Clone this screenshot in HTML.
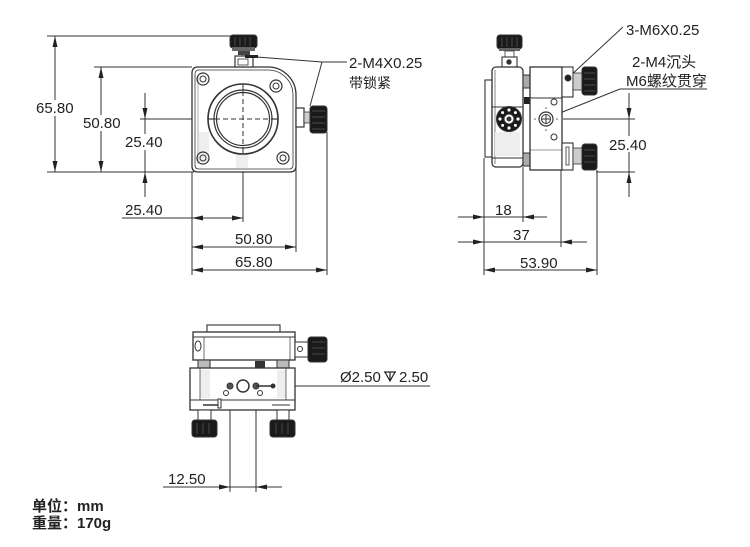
<!DOCTYPE html>
<html><head><meta charset="utf-8">
<style>
html,body{margin:0;padding:0;background:#fff;width:750px;height:547px;overflow:hidden}
svg{display:block}
text{font-family:"Liberation Sans","Noto Sans CJK SC",sans-serif;fill:#222;font-size:15px}
.cjk{font-family:"Liberation Sans","Noto Sans CJK SC",sans-serif}
</style></head><body>
<svg width="750" height="547" viewBox="0 0 750 547" xmlns="http://www.w3.org/2000/svg">
<defs>
<marker id="a" viewBox="0 0 11 5" refX="11" refY="2.5" markerWidth="11" markerHeight="5" markerUnits="userSpaceOnUse" orient="auto-start-reverse"><path d="M0,0 L11,2.5 L0,5z" fill="#222"/></marker>
</defs>

<!-- ================= FRONT VIEW ================= -->
<g stroke="#333" stroke-width="1" fill="none">
  <!-- 65.80 vertical -->
  <line x1="47" y1="36" x2="232" y2="36"/>
  <line x1="47" y1="172" x2="194" y2="172"/>
  <line x1="55" y1="36" x2="55" y2="172" marker-start="url(#a)" marker-end="url(#a)"/>
  <!-- 50.80 vertical -->
  <line x1="94" y1="67" x2="192" y2="67"/>
  <line x1="101" y1="67" x2="101" y2="172" marker-start="url(#a)" marker-end="url(#a)"/>
  <!-- 25.40 vertical -->
  <line x1="145" y1="93" x2="145" y2="119" marker-end="url(#a)"/>
  <line x1="145" y1="119" x2="145" y2="172"/>
  <line x1="145" y1="197" x2="145" y2="172" marker-end="url(#a)"/>
  <!-- center lines -->
  <line x1="140" y1="119" x2="215" y2="119"/>
  <line x1="215" y1="119" x2="271" y2="119" stroke-dasharray="5,3"/>
  <line x1="271" y1="119" x2="296" y2="119"/>
  <line x1="243" y1="55" x2="243" y2="91"/>
  <line x1="243" y1="91" x2="243" y2="147" stroke-dasharray="5,3"/>
  <line x1="243" y1="147" x2="243" y2="222"/>
  <!-- bottom extension lines -->
  <line x1="192" y1="172" x2="192" y2="275"/>
  <line x1="296" y1="160" x2="296" y2="252"/>
  <line x1="327" y1="132" x2="327" y2="275"/>
  <!-- 25.40 horizontal -->
  <line x1="122" y1="218" x2="192" y2="218"/>
  <line x1="192" y1="218" x2="243" y2="218" marker-start="url(#a)" marker-end="url(#a)"/>
  <!-- 50.80 horizontal -->
  <line x1="192" y1="247" x2="296" y2="247" marker-start="url(#a)" marker-end="url(#a)"/>
  <!-- 65.80 horizontal -->
  <line x1="192" y1="270" x2="327" y2="270" marker-start="url(#a)" marker-end="url(#a)"/>
  <!-- leader 2-M4X0.25 -->
  <polyline points="257,57 322,62 347,62"/>
  <line x1="322" y1="62" x2="310" y2="106"/>
</g>

<!-- front body -->
<g stroke="#333" fill="none">
  <path d="M192,73 Q192,67 198,67 L268,67 A28,28 0 0 1 296,95 L296,166 Q296,172 290,172 L198,172 Q192,172 192,166 Z" stroke-width="1.3" fill="#fff"/>
  <path d="M195,74 Q195,70 199,70 L268,70 A25,25 0 0 1 293,95 L293,165 Q293,169 289,169 L199,169 Q195,169 195,165 Z" stroke-width="0.8"/>
  <line x1="198" y1="76" x2="198" y2="164" stroke-width="0.6" stroke="#777"/>
  <rect x="199" y="132" width="10" height="30" fill="#eee" stroke="none"/>
  <rect x="236" y="150" width="12" height="18" fill="#eee" stroke="none"/>
  <circle cx="243" cy="119" r="35" stroke-width="1.6" fill="#fff"/>
  <circle cx="243" cy="119" r="29" stroke-width="1.2"/>
  <circle cx="243" cy="119" r="26.5" stroke-width="1.2"/>
  <line x1="208" y1="119" x2="215" y2="119" stroke-width="1.2"/>
  <line x1="271" y1="119" x2="278" y2="119" stroke-width="1.2"/>
  <line x1="215" y1="119" x2="271" y2="119" stroke-dasharray="5,3"/>
  <line x1="243" y1="91" x2="243" y2="147" stroke-dasharray="5,3"/>
  <line x1="243" y1="84" x2="243" y2="91"/>
  <line x1="243" y1="147" x2="243" y2="154"/>
  <!-- mount holes -->
  <circle cx="203" cy="79" r="6" stroke-width="1.2"/><circle cx="203" cy="79" r="3"/>
  <circle cx="276" cy="86" r="6" stroke-width="1.2"/><circle cx="276" cy="86" r="3"/>
  <circle cx="203" cy="158" r="6" stroke-width="1.2"/><circle cx="203" cy="158" r="3"/>
  <circle cx="283" cy="158" r="6" stroke-width="1.2"/><circle cx="283" cy="158" r="3"/>
  <!-- top knob -->
  <rect x="230" y="35" width="27" height="13" rx="3" fill="#1a1a1a"/>
  <rect x="232" y="47" width="23" height="4" fill="#666" stroke="none"/>
  <rect x="238" y="51" width="12" height="4" fill="#444" stroke="none"/>
  <rect x="235" y="56" width="18" height="11" fill="#fff" stroke-width="1.2"/>
  <rect x="238" y="59" width="10" height="6" fill="#fff" stroke-width="0.8"/>
  <rect x="245" y="55" width="13" height="3" fill="#222" stroke="none"/>
  <!-- right knob -->
  <rect x="296" y="108" width="8" height="19" fill="#fff" stroke-width="1.2"/>
  <rect x="304" y="112" width="6" height="11" fill="#ccc" stroke-width="0.8"/>
  <rect x="310" y="106" width="17" height="27" rx="3" fill="#1a1a1a"/>
</g>
<g stroke="#555" stroke-width="0.8">
  <line x1="235" y1="37" x2="235" y2="46"/><line x1="240" y1="37" x2="240" y2="46"/><line x1="245" y1="37" x2="245" y2="46"/><line x1="250" y1="37" x2="250" y2="46"/>
  <line x1="312" y1="111" x2="325" y2="111"/><line x1="312" y1="117" x2="325" y2="117"/><line x1="312" y1="123" x2="325" y2="123"/><line x1="312" y1="129" x2="325" y2="129"/>
</g>

<!-- front texts -->
<rect x="35" y="100" width="40" height="16" fill="#fff"/>
<text x="36" y="113">65.80</text>
<rect x="82" y="115" width="39" height="16" fill="#fff"/>
<text x="83" y="128">50.80</text>
<rect x="124" y="134" width="40" height="16" fill="#fff"/>
<text x="125" y="147">25.40</text>
<text x="125" y="215">25.40</text>
<text x="235" y="244">50.80</text>
<text x="235" y="267">65.80</text>
<text x="349" y="68">2-M4X0.25</text>
<text x="349" y="88" style="font-size:14px">带锁紧</text>

<!-- ================= SIDE VIEW ================= -->
<g stroke="#333" stroke-width="1" fill="none">
  <!-- dims -->
  <line x1="484" y1="158" x2="484" y2="275"/>
  <line x1="523" y1="167" x2="523" y2="222"/>
  <line x1="561" y1="170" x2="561" y2="247"/>
  <line x1="597" y1="170" x2="597" y2="275"/>
  <line x1="458" y1="217" x2="484" y2="217" marker-end="url(#a)"/>
  <line x1="484" y1="217" x2="523" y2="217"/>
  <line x1="547" y1="217" x2="523" y2="217" marker-end="url(#a)"/>
  <line x1="458" y1="242" x2="484" y2="242" marker-end="url(#a)"/>
  <line x1="484" y1="242" x2="561" y2="242"/>
  <line x1="587" y1="242" x2="561" y2="242" marker-end="url(#a)"/>
  <line x1="484" y1="270" x2="597" y2="270" marker-start="url(#a)" marker-end="url(#a)"/>
  <!-- 25.40 vertical -->
  <line x1="563" y1="119" x2="635" y2="119"/>
  <line x1="596" y1="172" x2="635" y2="172"/>
  <line x1="629" y1="93" x2="629" y2="119" marker-end="url(#a)"/>
  <line x1="629" y1="119" x2="629" y2="172"/>
  <line x1="629" y1="197" x2="629" y2="172" marker-end="url(#a)"/>
  <!-- leaders -->
  <line x1="623" y1="27" x2="569" y2="77"/>
  <line x1="620" y1="89" x2="707" y2="89"/>
  <line x1="620" y1="89" x2="550" y2="117" marker-end="url(#a)"/>
</g>
<g stroke="#333" fill="none">
  <!-- top knob -->
  <rect x="497" y="35" width="25" height="14" rx="3" fill="#1a1a1a"/>
  <rect x="499" y="48" width="21" height="3" fill="#666" stroke="none"/>
  <rect x="505" y="51" width="9" height="6" fill="#fff" stroke-width="0.8"/>
  <rect x="502" y="57" width="15" height="10" fill="#fff" stroke-width="1.1"/>
  <circle cx="509" cy="62" r="2.2" fill="#333"/>
  <!-- left plate -->
  <rect x="485" y="80" width="7" height="77" fill="#fff" stroke-width="1.1"/>
  <!-- cell body -->
  <rect x="492" y="67" width="31" height="100" rx="4" fill="#fff" stroke-width="1.3"/>
  <line x1="492" y1="107" x2="523" y2="107"/>
  <line x1="492" y1="158" x2="523" y2="158"/>
  <line x1="495" y1="70" x2="495" y2="164" stroke-width="0.6"/>
  <rect x="495" y="132" width="25" height="24" fill="#eee" stroke="none"/>
  <!-- gear -->
  <circle cx="509" cy="119" r="12.5" fill="#1a1a1a"/>
  <circle cx="509" cy="119" r="5" fill="#fff"/>
  <circle cx="509" cy="119" r="2" fill="#333"/>
  <g fill="#fff" stroke="none">
    <circle cx="509" cy="110" r="1.6"/><circle cx="509" cy="128" r="1.6"/><circle cx="500" cy="119" r="1.6"/><circle cx="518" cy="119" r="1.6"/>
    <circle cx="502.6" cy="112.6" r="1.5"/><circle cx="515.4" cy="112.6" r="1.5"/><circle cx="502.6" cy="125.4" r="1.5"/><circle cx="515.4" cy="125.4" r="1.5"/>
  </g>
  <!-- stubs -->
  <rect x="523" y="75" width="7" height="13" fill="#aaa" stroke-width="1"/>
  <rect x="523" y="153" width="7" height="13" fill="#aaa" stroke-width="1"/>
  <rect x="524" y="97" width="6" height="7" fill="#222" stroke="none"/>
  <!-- right block -->
  <rect x="530" y="67" width="32" height="103" fill="#fff" stroke-width="1.3"/>
  <line x1="530" y1="98" x2="562" y2="98"/>
  <line x1="530" y1="150" x2="562" y2="150" stroke-width="0.6"/>
  <circle cx="546" cy="119" r="7" stroke-width="1.2"/>
  <circle cx="546" cy="119" r="4.5"/>
  <line x1="542" y1="119" x2="550" y2="119"/>
  <line x1="546" y1="115" x2="546" y2="123"/>
  <circle cx="554" cy="102" r="3"/>
  <circle cx="554" cy="137" r="3"/>
  <g fill="#555" stroke="none"><circle cx="535" cy="119" r="0.8"/><circle cx="557" cy="119" r="0.8"/><circle cx="546" cy="108" r="0.8"/><circle cx="546" cy="130" r="0.8"/></g>
  <!-- top right knob -->
  <rect x="562" y="67" width="11" height="30" fill="#fff" stroke-width="1.1"/>
  <circle cx="568" cy="78" r="3" fill="#222"/>
  <rect x="573" y="73" width="9" height="17" fill="#ccc" stroke-width="0.8"/>
  <rect x="582" y="67" width="15" height="28" rx="3" fill="#1a1a1a"/>
  <!-- bottom right knob -->
  <rect x="562" y="143" width="11" height="27" fill="#fff" stroke-width="1.1"/>
  <rect x="566" y="147" width="3" height="18" fill="#fff" stroke-width="0.8"/>
  <rect x="573" y="148" width="9" height="16" fill="#ccc" stroke-width="0.8"/>
  <rect x="582" y="144" width="15" height="26" rx="3" fill="#1a1a1a"/>
</g>
<g stroke="#555" stroke-width="0.8">
  <line x1="502" y1="37" x2="502" y2="47"/><line x1="507" y1="37" x2="507" y2="47"/><line x1="512" y1="37" x2="512" y2="47"/><line x1="517" y1="37" x2="517" y2="47"/>
  <line x1="584" y1="73" x2="595" y2="73"/><line x1="584" y1="79" x2="595" y2="79"/><line x1="584" y1="85" x2="595" y2="85"/><line x1="584" y1="91" x2="595" y2="91"/>
  <line x1="584" y1="150" x2="595" y2="150"/><line x1="584" y1="156" x2="595" y2="156"/><line x1="584" y1="162" x2="595" y2="162"/>
</g>
<text x="495" y="215">18</text>
<text x="513" y="240">37</text>
<text x="520" y="268">53.90</text>
<rect x="608" y="136" width="41" height="16" fill="#fff"/>
<text x="609" y="150">25.40</text>
<text x="626" y="35">3-M6X0.25</text>
<text x="632" y="67">2-M4沉头</text>
<text x="626" y="86">M6螺纹贯穿</text>

<!-- ================= BOTTOM VIEW ================= -->
<g stroke="#333" stroke-width="1" fill="none">
  <line x1="230" y1="386" x2="230" y2="492"/>
  <line x1="256" y1="386" x2="256" y2="492"/>
  <line x1="163" y1="487" x2="230" y2="487" marker-end="url(#a)"/>
  <line x1="230" y1="487" x2="256" y2="487"/>
  <line x1="282" y1="487" x2="256" y2="487" marker-end="url(#a)"/>
  <line x1="256" y1="386" x2="430" y2="386"/>
</g>
<g stroke="#333" fill="none">
  <rect x="207" y="325" width="73" height="7" fill="#fff" stroke-width="1.1"/>
  <rect x="193" y="332" width="102" height="28" fill="#fff" stroke-width="1.3"/>
  <line x1="193" y1="337" x2="295" y2="337"/>
  <line x1="204" y1="337" x2="204" y2="360" stroke-width="0.7"/>
  <line x1="290" y1="337" x2="290" y2="360" stroke-width="0.7"/>
  <ellipse cx="198" cy="346" rx="3" ry="5"/>
  <rect x="295" y="342" width="13" height="15" fill="#fff" stroke-width="1"/>
  <circle cx="300" cy="349" r="2.5"/>
  <rect x="308" y="337" width="19" height="25" rx="3" fill="#1a1a1a"/>
  <rect x="198" y="360" width="12" height="8" fill="#bbb"/>
  <rect x="277" y="360" width="12" height="8" fill="#bbb"/>
  <rect x="255" y="361" width="10" height="7" fill="#333" stroke="none"/>
  <rect x="190" y="368" width="105" height="42" fill="#fff" stroke-width="1.3"/>
  <rect x="200" y="370" width="10" height="28" fill="#eee" stroke="none"/>
  <rect x="277" y="370" width="9" height="28" fill="#eee" stroke="none"/>
  <line x1="190" y1="400" x2="295" y2="400"/>
  <line x1="200" y1="368" x2="200" y2="400" stroke-width="0.7"/>
  <line x1="286" y1="368" x2="286" y2="400" stroke-width="0.7"/>
  <line x1="203" y1="405" x2="218" y2="405" stroke-width="1.5"/>
  <rect x="218" y="399" width="3" height="9" fill="#fff"/>
  <line x1="272" y1="405" x2="290" y2="405" stroke-width="1"/>
  <rect x="198" y="410" width="13" height="10" fill="#fff"/>
  <rect x="277" y="410" width="12" height="10" fill="#fff"/>
  <rect x="192" y="420" width="25" height="17" rx="3" fill="#1a1a1a"/>
  <rect x="270" y="420" width="25" height="17" rx="3" fill="#1a1a1a"/>
  <circle cx="243" cy="386" r="6" stroke-width="1.5" fill="#fff"/>
  <circle cx="230" cy="386" r="3" fill="#555"/>
  <circle cx="256" cy="386" r="3" fill="#555"/>
  <circle cx="226" cy="393" r="2.5"/>
  <circle cx="260" cy="393" r="2.5"/>
  <circle cx="273" cy="386" r="2" fill="#333"/>
  <line x1="256" y1="386" x2="273" y2="386" stroke-width="1.5"/>
</g>
<g stroke="#555" stroke-width="0.8">
  <line x1="312" y1="342" x2="325" y2="342"/><line x1="312" y1="348" x2="325" y2="348"/><line x1="312" y1="354" x2="325" y2="354"/>
  <line x1="197" y1="423" x2="197" y2="434"/><line x1="203" y1="423" x2="203" y2="434"/><line x1="209" y1="423" x2="209" y2="434"/>
  <line x1="276" y1="423" x2="276" y2="434"/><line x1="282" y1="423" x2="282" y2="434"/><line x1="288" y1="423" x2="288" y2="434"/>
</g>
<text x="340" y="382">Ø2.50</text>
<g stroke="#222" stroke-width="1.2" fill="none">
  <line x1="384" y1="372" x2="396" y2="372"/>
  <polyline points="385,372 390,381 395,372"/>
  <line x1="390" y1="372" x2="390" y2="380"/>
</g>
<text x="399" y="382">2.50</text>
<text x="168" y="484">12.50</text>

<!-- bottom-left notes -->
<text x="32" y="511" style="font-weight:bold">单位：mm</text>
<text x="32" y="528" style="font-weight:bold">重量：170g</text>
</svg>
</body></html>
